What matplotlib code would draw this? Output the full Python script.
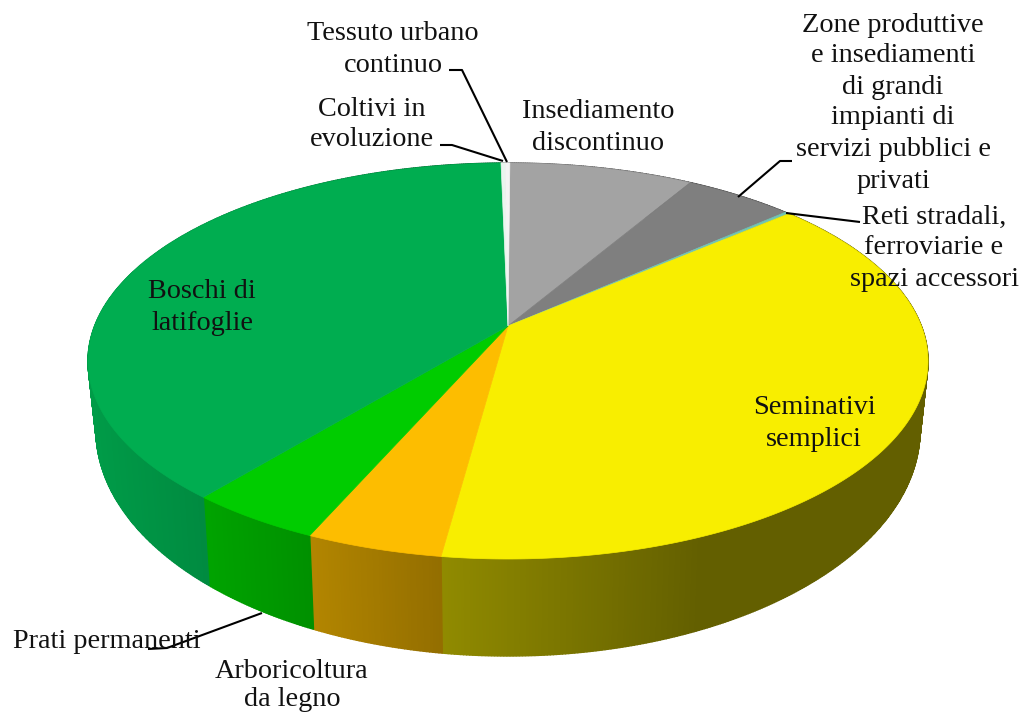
import numpy as np
import matplotlib
matplotlib.use("Agg")
import matplotlib.pyplot as plt
from matplotlib.patches import Polygon

categories = ["Insediamento discontinuo",
              "Zone produttive e insediamenti di grandi impianti di servizi pubblici e privati",
              "Reti stradali, ferroviarie e spazi accessori",
              "Seminativi semplici", "Arboricoltura da legno", "Prati permanenti",
              "Boschi di latifoglie", "Coltivi in evoluzione", "Tessuto urbano continuo"]
values = [8.4, 5.0, 0.2, 38.45, 4.45, 4.4, 38.7, 0.2, 0.2]
colors = ["#A3A3A3", "#7F7F7F", "#72C4B4", "#F8EE00", "#FDBD00", "#00CC00",
          "#00AD50", "#E9F5EE", "#F4F4F4"]

TOP = dict(cx=508, cy=361, rx=420, ry=198)
BOT = dict(cx=508, cy=430, rx=412, ry=226)
K = 0.177
SH_X = [88, 205, 316, 443, 700, 930]
SH_F = [0.90, 0.80, 0.70, 0.58, 0.40, 0.40]


def proj(theta, e):
    u, w = np.cos(theta), np.sin(theta)
    d = K * u + 1
    return (e["cx"] + e["rx"] * w * np.sqrt(1 - K**2) / d,
            e["cy"] - e["ry"] * (u + K) / d)


def shade(c, f):
    r = np.array(matplotlib.colors.to_rgb(c))
    return tuple(r * f)


plt.rcParams["font.family"] = ["Liberation Serif", "DejaVu Serif"]
fig = plt.figure(figsize=(10.21, 7.12), dpi=100)
ax = fig.add_axes([0, 0, 1, 1])
ax.set_xlim(0, 1021)
ax.set_ylim(712, 0)
ax.axis("off")

edges = np.radians(np.cumsum([0] + values) * 3.6) + np.radians(0.3)

# side wall, strip by strip; the top face hides the back part of the rim
for v0, v1, c in zip(edges[:-1], edges[1:], colors):
    ts = np.linspace(v0, v1, max(3, int((v1 - v0) * 160)))
    for a, b in zip(ts[:-1], ts[1:]):
        xa, ya = proj(a, TOP)
        xb, yb = proj(b, TOP)
        xc, yc = proj(b, BOT)
        xd, yd = proj(a, BOT)
        col = shade(c, np.interp((xa + xb) / 2, SH_X, SH_F))
        ax.add_patch(Polygon([(xa, ya), (xb, yb), (xc, yc), (xd, yd)],
                             closed=True, fc=col, ec=col, lw=1.0, zorder=1))

# top face
apex = (TOP["cx"], TOP["cy"] - TOP["ry"] * K)
for v0, v1, c in zip(edges[:-1], edges[1:], colors):
    ts = np.linspace(v0, v1, max(3, int((v1 - v0) * 120)))
    px, py = proj(ts, TOP)
    pts = [apex] + list(zip(px, py))
    ax.add_patch(Polygon(pts, closed=True, fc=c, ec=c, lw=0.5, zorder=2))

# leader lines
leaders = [
    [(449, 70), (462, 70), (507, 162)],
    [(440, 145), (452, 145), (503, 161)],
    [(738, 197), (780, 161), (792, 161)],
    [(786, 213), (860, 222)],
    [(262, 613), (167, 648), (148, 649)],
]
for L in leaders:
    x, y = zip(*L)
    ax.plot(x, y, color="black", lw=1.5, zorder=4, solid_capstyle="butt")

labels = [
    (393, [34, 65], ["Tessuto urbano", "continuo"]),
    (372, [109, 140], ["Coltivi in", "evoluzione"]),
    (598, [112, 143], ["Insediamento", "discontinuo"]),
    (893, [26, 56, 87, 118, 150, 181],
     ["Zone produttive", "e insediamenti", "di grandi", "impianti di",
      "servizi pubblici e", "privati"]),
    (934, [217, 248, 280], ["Reti stradali,", "ferroviarie e", "spazi accessori"]),
    (202, [292, 323], ["Boschi di", "latifoglie"]),
    (814, [407, 439], ["Seminativi", "semplici"]),
    (107, [642], ["Prati permanenti"]),
    (292, [671, 700], ["Arboricoltura", "da legno"]),
]
for cx, ys, lines in labels:
    for y, s in zip(ys, lines):
        ax.text(cx, y, s, ha="center", va="center", fontsize=20.3,
                color="#111111", zorder=5)

fig.savefig("out.png", dpi=100)
